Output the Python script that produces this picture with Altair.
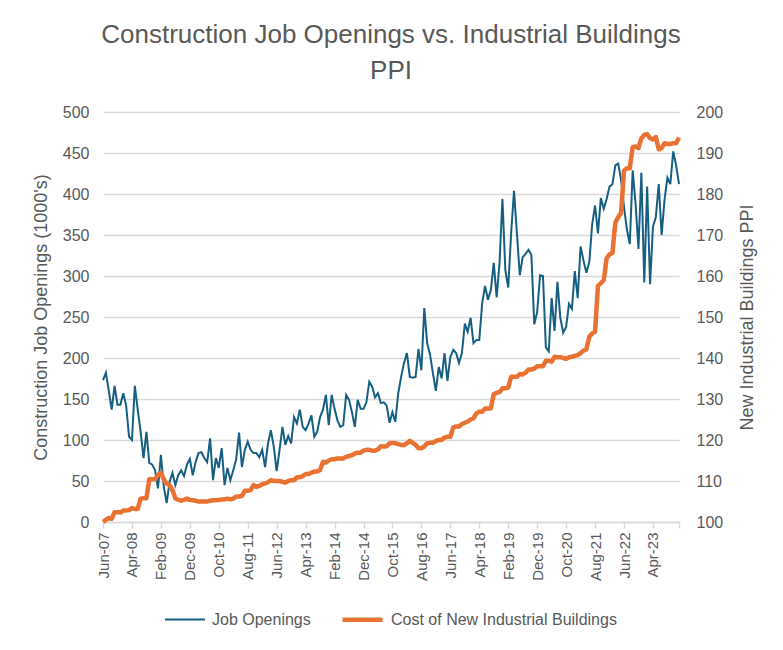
import json
import altair as alt
import pandas as pd

# ---- data (monthly, Jun-2007 .. Jan-2024) ----
months = pd.date_range("2007-06-01", periods=200, freq="MS").strftime("%b-%y").tolist()

job_openings = [
    173, 182, 160, 137, 166, 143, 143, 157, 142, 104,
    100, 166, 137, 110, 78, 110, 72, 70, 63, 41,
    82, 43, 23, 49, 60, 45, 57, 63, 56, 70,
    77, 57, 73, 84, 85, 78, 73, 102, 51, 78,
    66, 90, 45, 66, 51, 63, 76, 109, 67, 88,
    98, 88, 84, 84, 79, 88, 67, 96, 112, 92,
    62, 88, 116, 94, 105, 96, 128, 120, 137, 116,
    112, 120, 130, 104, 110, 128, 137, 155, 118, 155,
    138, 124, 116, 118, 155, 149, 134, 116, 149, 138,
    138, 146, 171, 165, 152, 157, 145, 146, 142, 121,
    134, 122, 157, 177, 194, 206, 177, 176, 177, 211,
    185, 261, 218, 204, 181, 160, 189, 175, 206, 172,
    201, 210, 206, 194, 206, 242, 232, 249, 218, 222,
    222, 267, 288, 271, 283, 316, 274, 316, 394, 307,
    286, 352, 404, 352, 301, 323, 327, 332, 326, 241,
    256, 301, 300, 213, 208, 273, 233, 293, 249, 231,
    238, 266, 260, 306, 273, 336, 319, 304, 317, 363,
    386, 352, 395, 382, 394, 409, 412, 435, 437, 417,
    384, 357, 339, 429, 388, 333, 426, 292, 409, 290,
    360, 372, 412, 350, 393, 420, 412, 452, 435, 412,
]

ppi = [
    100.0, 100.5, 101.0, 100.8, 102.4, 102.4, 102.3, 102.8, 102.8, 102.9,
    103.4, 103.2, 103.2, 105.7, 105.8, 105.8, 110.4, 110.4, 110.4, 111.5,
    112.0, 110.4, 109.4, 109.0, 107.8, 105.8, 105.4, 105.2, 105.4, 105.7,
    105.4, 105.3, 105.2, 105.0, 105.0, 105.0, 105.0, 105.2, 105.3, 105.3,
    105.4, 105.5, 105.5, 105.7, 105.5, 105.7, 106.2, 106.2, 106.4, 107.6,
    107.6, 107.8, 109.0, 108.6, 108.8, 109.2, 109.4, 109.7, 110.2, 110.0,
    110.0, 110.0, 109.8, 109.6, 110.0, 110.2, 110.2, 110.9, 110.9, 111.2,
    111.7, 111.7, 112.0, 112.3, 112.3, 112.7, 114.7, 114.5, 115.0, 115.3,
    115.3, 115.5, 115.5, 115.5, 115.9, 116.1, 116.3, 116.7, 116.9, 116.9,
    117.4, 117.6, 117.6, 117.4, 117.4, 117.7, 118.5, 118.4, 118.5, 119.2,
    119.3, 119.2, 119.0, 118.8, 118.8, 119.2, 119.8, 119.3, 118.8, 118.0,
    118.0, 118.4, 119.2, 119.3, 119.3, 119.8, 120.0, 120.0, 120.6, 120.8,
    120.8, 123.1, 123.3, 123.3, 123.9, 124.2, 124.5, 125.0, 125.3, 126.5,
    126.9, 126.9, 127.7, 127.7, 127.7, 131.2, 131.5, 131.7, 132.6, 132.6,
    132.8, 135.4, 135.4, 135.4, 136.1, 136.0, 136.4, 137.2, 137.2, 137.4,
    138.0, 138.0, 138.0, 139.3, 139.3, 139.1, 140.3, 140.2, 140.2, 140.0,
    139.8, 140.2, 140.3, 140.5, 140.7, 141.2, 141.8, 142.1, 145.2, 146.0,
    146.4, 157.6, 158.2, 159.0, 164.3, 165.3, 165.6, 173.0, 174.4, 175.4,
    185.7, 186.3, 186.3, 191.4, 191.6, 191.2, 193.6, 194.4, 194.6, 193.6,
    193.3, 193.9, 190.9, 191.2, 192.4, 192.2, 192.2, 192.4, 192.4, 193.8,
]

series_names = ["Job Openings", "Cost of New Industrial Buildings"]
series_colors = ["#156082", "#E97132"]
series_widths = [2, 4.5]
tick_labels = months[::10]

# ---- build long table ----
rows = []
for i, (m, v) in enumerate(zip(months, job_openings)):
    rows.append({"idx": i, "month": m, "value": v, "series": series_names[0]})
for i, (m, v) in enumerate(zip(months, ppi)):
    rows.append({"idx": i, "month": m, "value": v, "series": series_names[1]})
df = pd.DataFrame(rows)

FONT = "Liberation Sans"
TXT = "#595959"
GRID = "#d9d9d9"

label_expr = "datum.value % 10 == 0 ? " + json.dumps(tick_labels) + "[datum.value / 10] : ''"

x_enc = alt.X(
    "idx:Q",
    scale=alt.Scale(domain=[0, len(months) - 1], nice=False, zero=False),
    axis=alt.Axis(
        values=list(range(0, len(months), 10)) + [len(months) - 1],
        labelExpr=label_expr,
        labelAngle=270,
        title=None,
        grid=False,
        domainColor=GRID,
        domainWidth=1.5,
        tickColor=GRID,
        tickWidth=1.5,
        tickSize=6,
        labelFontSize=15,
        labelColor=TXT,
        labelPadding=4,
        labelFont=FONT,
    ),
)

color_enc = alt.Color(
    "series:N",
    scale=alt.Scale(domain=series_names, range=series_colors),
    legend=alt.Legend(title=None),
)
width_enc = alt.StrokeWidth(
    "series:N",
    scale=alt.Scale(domain=series_names, range=series_widths),
    legend=alt.Legend(title=None),
)

base = alt.Chart(df).encode(x=x_enc, color=color_enc, strokeWidth=width_enc)

left = base.transform_filter(alt.datum.series == series_names[0]).mark_line().encode(
    y=alt.Y(
        "value:Q",
        scale=alt.Scale(domain=[0, 500], nice=False),
        axis=alt.Axis(
            values=list(range(0, 501, 50)),
            title="Construction Job Openings (1000's)",
            titleFontSize=18,
            titleFontWeight="normal",
            titleColor=TXT,
            titleFont=FONT,
            titlePadding=12,
            labelFontSize=16,
            labelColor=TXT,
            labelFont=FONT,
            labelPadding=14,
            ticks=False,
            domain=False,
            grid=True,
            gridColor=GRID,
            gridWidth=1.5,
        ),
    )
)

right = base.transform_filter(alt.datum.series == series_names[1]).mark_line(strokeJoin="round").encode(
    y=alt.Y(
        "value:Q",
        scale=alt.Scale(domain=[100, 200], nice=False, zero=False),
        axis=alt.Axis(
            orient="right",
            values=list(range(100, 201, 10)),
            title="New Industrial Buildings PPI",
            titleAngle=270,
            titleFontSize=18,
            titleFontWeight="normal",
            titleColor=TXT,
            titleFont=FONT,
            titlePadding=34,
            labelFontSize=16,
            labelColor=TXT,
            labelFont=FONT,
            labelPadding=17,
            ticks=False,
            domain=False,
            grid=False,
        ),
    )
)

chart = (
    alt.layer(left, right)
    .resolve_scale(y="independent")
    .properties(
        width=576,
        height=410,
        padding={"left": 24, "right": 6, "top": 14, "bottom": 10},
        title=alt.TitleParams(
            ["Construction Job Openings vs. Industrial Buildings", "PPI"],
            fontSize=26,
            fontWeight="normal",
            color=TXT,
            font=FONT,
            anchor="middle",
            lineHeight=36,
            offset=20,
        ),
    )
    .configure_view(stroke=None)
    .configure_legend(
        orient="none",
        legendX=61,
        legendY=485,
        direction="horizontal",
        symbolType="stroke",
        symbolSize=1600,
        labelFontSize=16,
        labelColor=TXT,
        labelFont=FONT,
        labelLimit=400,
        labelOffset=6,
        columnPadding=22,
    )
)

chart.save("out.html", embed_options={"renderer": "svg", "actions": False})
